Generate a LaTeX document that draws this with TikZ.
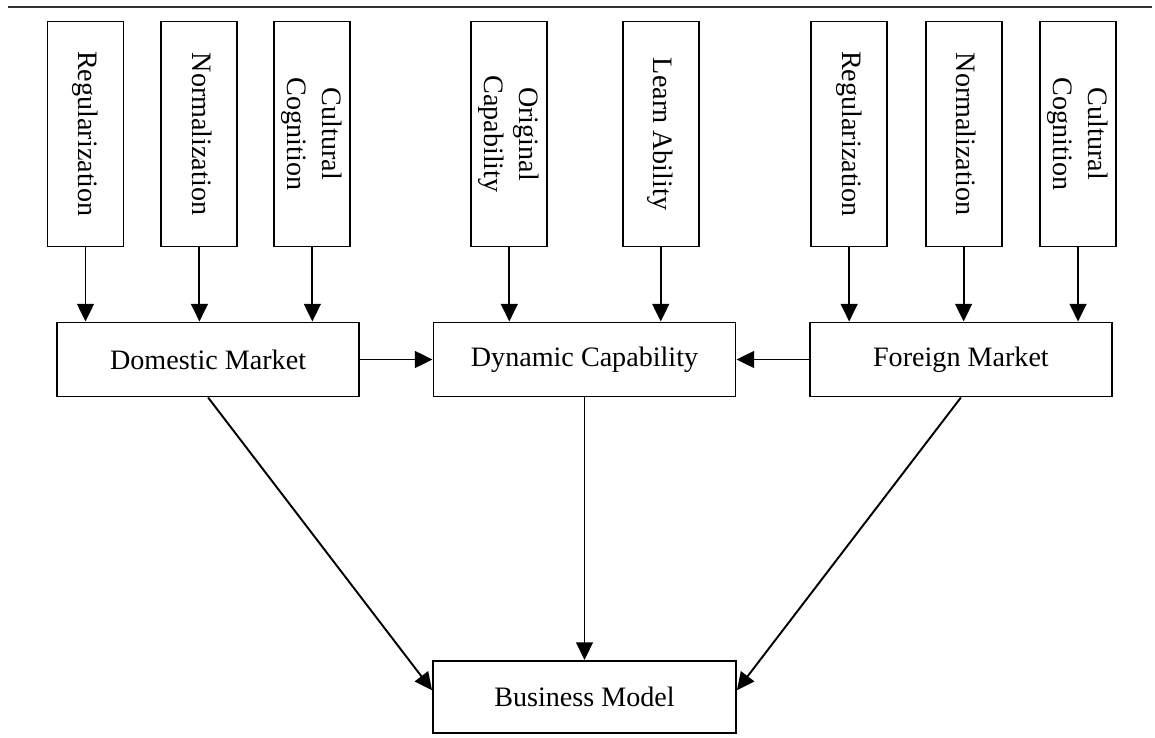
\documentclass[tikz,border=0pt]{standalone}
\usepackage{fontspec}
\setmainfont{Liberation Serif}
\usepackage{graphicx}
\usepackage{tikz}
\usetikzlibrary{positioning,arrows.meta}
\newcommand{\vtext}[1]{\rotatebox{-90}{\begin{tabular}{@{}c@{}}#1\end{tabular}}}

\begin{document}
\begin{tikzpicture}[font=\fontsize{16}{20}\selectfont,>={Triangle[width=9.5pt,length=10pt]},line width=1.1pt]
  \tikzstyle{fac}=[draw,minimum width=1.52cm,minimum height=4.5cm,inner sep=0pt]
  \tikzstyle{mkt}=[draw,minimum width=6.04cm,minimum height=1.48cm,inner sep=0pt]
  \useasboundingbox (0,0) rectangle (23.1,-14.76);
  \draw[line width=1.2pt,black!80] (0.16,-0.14) -- (23.04,-0.14);
  % middle row
  \node[mkt] (dyn) at (11.69,-7.19) {Dynamic Capability};
  \node[mkt,left=1.45cm of dyn] (dom) {Domestic Market};
  \node[mkt,right=1.45cm of dyn] (frn) {Foreign Market};
  \node[mkt,below=5.25cm of dyn,minimum width=6.06cm,minimum height=1.45cm] (bm) {Business Model};
  % factors
  \node[fac] (reg1) at (1.71,-2.68) {\vtext{Regularization}};
  \node[fac,right=0.72cm of reg1] (nor1) {\vtext{Normalization}};
  \node[fac,right=0.7cm of nor1] (cul1) {\vtext{Cultural\\Cognition}};
  \node[fac,right=2.38cm of cul1] (orig) {\vtext{Original\\Capability}};
  \node[fac,right=1.47cm of orig] (learn) {\vtext{Learn Ability}};
  \node[fac,right=2.21cm of learn] (reg2) {\vtext{Regularization}};
  \node[fac,right=0.73cm of reg2] (nor2) {\vtext{Normalization}};
  \node[fac,right=0.73cm of nor2] (cul2) {\vtext{Cultural\\Cognition}};
  \foreach \f in {reg1,nor1,cul1} \draw[->] (\f.south) -- (\f.south |- dom.north);
  \foreach \f in {orig,learn} \draw[->] (\f.south) -- (\f.south |- dyn.north);
  \foreach \f in {reg2,nor2,cul2} \draw[->] (\f.south) -- (\f.south |- frn.north);
  \draw[->] (dom) -- (dyn); \draw[->] (frn) -- (dyn);
  \draw[->] (dom.south) -- ([yshift=1.4mm]bm.west);
  \draw[->] (dyn.south) -- (bm.north);
  \draw[->] (frn.south) -- ([yshift=1.4mm]bm.east);
\end{tikzpicture}
\end{document}
